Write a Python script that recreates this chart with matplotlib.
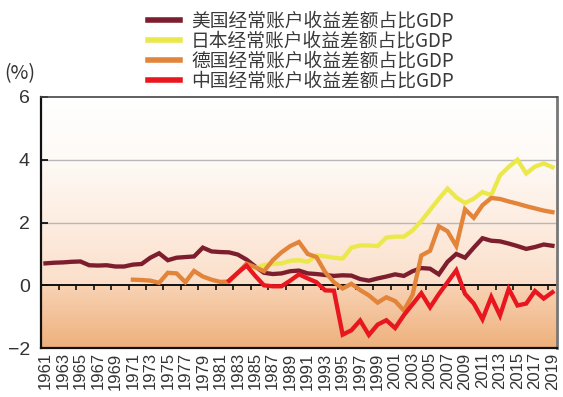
import numpy as np
import matplotlib
matplotlib.use('Agg')
from matplotlib import pyplot as plt
from matplotlib.colors import to_rgb

plt.rcParams['font.family'] = ['Noto Sans CJK SC', 'DejaVu Sans']

# 数据
us_years = list(range(1961, 2020))
us_vals = [0.70, 0.72, 0.73, 0.75, 0.76, 0.64, 0.63, 0.64, 0.60, 0.60,
           0.66, 0.68, 0.88, 1.02, 0.80, 0.88, 0.90, 0.92, 1.20, 1.08,
           1.06, 1.05, 0.98, 0.82, 0.60, 0.40, 0.36, 0.38, 0.45, 0.47,
           0.38, 0.36, 0.33, 0.30, 0.32, 0.31, 0.20, 0.15, 0.22, 0.28,
           0.35, 0.30, 0.45, 0.55, 0.53, 0.35, 0.75, 1.00, 0.88, 1.20,
           1.50, 1.42, 1.40, 1.33, 1.25, 1.16, 1.22, 1.30, 1.26]

jp_years = list(range(1985, 2020))
jp_vals = [0.55, 0.65, 0.68, 0.70, 0.78, 0.80, 0.75, 0.95, 0.92, 0.88,
           0.85, 1.20, 1.27, 1.27, 1.25, 1.52, 1.55, 1.55, 1.75, 2.05,
           2.40, 2.75, 3.08, 2.80, 2.62, 2.76, 2.97, 2.87, 3.50, 3.77,
           4.00, 3.56, 3.78, 3.88, 3.76]

de_years = list(range(1971, 2020))
de_vals = [0.18, 0.17, 0.15, 0.08, 0.40, 0.38, 0.10, 0.46, 0.28, 0.18,
           0.11, 0.12, 0.40, 0.69, 0.58, 0.45, 0.80, 1.05, 1.25, 1.38,
           1.00, 0.90, 0.42, 0.10, -0.10, 0.05, -0.15, -0.32, -0.55, -0.38,
           -0.50, -0.80, -0.30, 0.95, 1.10, 1.88, 1.72, 1.25, 2.42, 2.15,
           2.55, 2.78, 2.75, 2.67, 2.60, 2.52, 2.45, 2.38, 2.33]

cn_years = list(range(1982, 2020))
cn_vals = [0.15, 0.40, 0.63, 0.30, 0.00, -0.03, -0.03, 0.15, 0.35, 0.22,
           0.10, -0.16, -0.17, -1.57, -1.43, -1.12, -1.58, -1.25, -1.11, -1.36,
           -0.95, -0.60, -0.25, -0.70, -0.28, 0.10, 0.48, -0.27, -0.58, -1.08,
           -0.37, -0.96, -0.11, -0.64, -0.58, -0.18, -0.42, -0.22]

labels = ['美国经常账户收益差额占比GDP', '日本经常账户收益差额占比GDP',
          '德国经常账户收益差额占比GDP', '中国经常账户收益差额占比GDP']
colors = ['#7d1e2e', '#ebe84c', '#e2843a', '#e8161e']

fig = plt.figure(figsize=(5.63, 3.97), dpi=100)
ax = fig.add_axes([0.073, 0.123, 0.916, 0.633])

# 背景渐变
ys = np.linspace(6, -2, 400)
stops_y = [6, 4, 2, 0.001, -0.001, -2]
stops_c = [to_rgb(c) for c in ['#ffffff', '#fefaf6', '#fdede1', '#fbdfca', '#f8d3b5', '#eeb07c']]
grad = np.zeros((len(ys), 1, 3))
for k in range(3):
    grad[:, 0, k] = np.interp(ys, stops_y[::-1], [c[k] for c in stops_c][::-1])
ax.imshow(grad, extent=[1960.5, 2019.5, -2, 6], aspect='auto', zorder=0)

# 网格线
for g in [2, 4]:
    ax.axhline(g, color='#b8b8b8', lw=1, zorder=1)
ax.axhline(0, color='#111111', lw=1.4, zorder=2)
ax.vlines(np.arange(1962.5, 2019, 2), -0.16, 0, color='#111111', lw=1.2, zorder=2)

series = [(us_years, us_vals), (jp_years, jp_vals), (de_years, de_vals), (cn_years, cn_vals)]
for (x, y), c, lab in zip(series, colors, labels):
    ax.plot(x, y, color=c, lw=3.1, label=lab, zorder=3, solid_joinstyle='miter')

ax.set_xlim(1960.5, 2019.5)
ax.set_ylim(-2, 6)
ax.set_yticks([-2, 0, 2, 4, 6])
ax.set_yticklabels(['−2', '0', '2', '4', '6'], fontsize=14, color='#333333')
ax.set_xticks(range(1961, 2020, 2))
ax.set_xticklabels([str(y) for y in range(1961, 2020, 2)], rotation=90,
                   fontsize=12, color='#333333')
ax.tick_params(axis='x', length=0, pad=3)
ax.tick_params(axis='y', direction='in', length=5, width=1.2, pad=8)
for lab in ax.get_yticklabels():
    lab.set_family(['Liberation Sans', 'DejaVu Sans'])
for lab in ax.get_xticklabels():
    lab.set_family(['Liberation Sans', 'DejaVu Sans'])

ax.spines['left'].set_color('#111111')
ax.spines['left'].set_linewidth(1.6)
ax.spines['bottom'].set_color('#111111')
ax.spines['bottom'].set_linewidth(1.6)
ax.spines['top'].set_color('#444444')
ax.spines['top'].set_linewidth(1.2)
ax.spines['right'].set_color('#777777')
ax.spines['right'].set_linewidth(2)

fig.text(0.008, 0.815, '(%)', fontsize=14, color='#333333', ha='left', va='center')

leg = fig.legend(loc='upper left', bbox_to_anchor=(0.236, 1.012), frameon=False,
                 fontsize=13.5, handlelength=1.7, handletextpad=0.6,
                 labelspacing=-0.05, borderpad=0.3)
for t in leg.get_texts():
    t.set_color('#3a3a3a')
for h in leg.get_lines():
    h.set_linewidth(4)

fig.savefig('out.png', dpi=100)
